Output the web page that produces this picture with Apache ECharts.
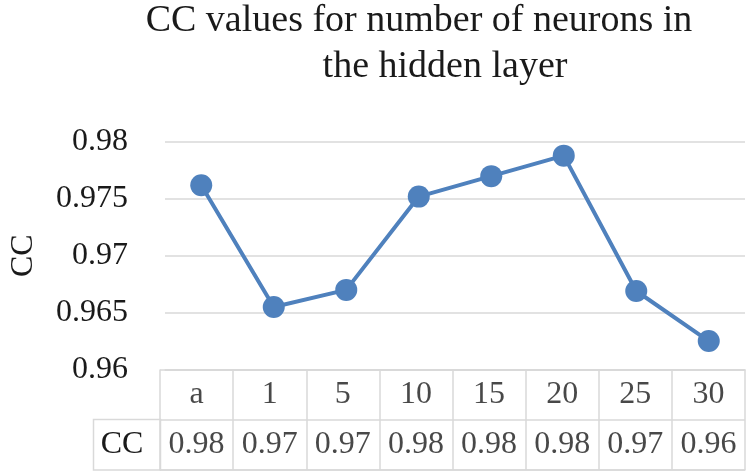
<!DOCTYPE html>
<html>
<head>
<meta charset="utf-8">
<script src="https://cdn.jsdelivr.net/npm/echarts@6/dist/echarts.min.js"></script>
<style>
  html, body { margin: 0; padding: 0; background: #fff; }
  #chart { width: 746px; height: 472px; }
</style>
</head>
<body>
<div id="chart"></div>
<script>
const titleLines = ['CC values for number of neurons in', 'the hidden layer']
const categories = ['a', '1', '5', '10', '15', '20', '25', '30']
const ccValues = [0.9762, 0.9655, 0.9670, 0.9752, 0.9770, 0.9788, 0.9669, 0.9625]
const seriesName = 'CC'
const yMin = 0.96
const yMax = 0.98
const yStep = 0.005

const font = '"Liberation Serif", "Times New Roman", serif'
const ink = '#1a1a1a'
const gridColor = '#d9d9d9'
const blue = '#4f81bd'

const chart = echarts.init(document.getElementById('chart'), null, { renderer: 'canvas' })

// table cell text: header row at y=1.5, value row at y=0.5
const headerCells = categories.map(c => ({ value: [c, 1.5], text: c }))
const valueCells = categories.map((c, i) => ({ value: [c, 0.5], text: ccValues[i].toFixed(2) }))

chart.setOption({
  animation: false,
  textStyle: { fontFamily: font, color: ink },
  graphic: [
    { type: 'group', children: [
      { type: 'text', x: 419, y: 21, style: { text: titleLines[0], font: '38px ' + font, fill: ink, align: 'center', verticalAlign: 'middle' } },
      { type: 'text', x: 445, y: 67, style: { text: titleLines[1], font: '38px ' + font, fill: ink, align: 'center', verticalAlign: 'middle' } },
      { type: 'rect', shape: { x: 93.5, y: 419.5, width: 67, height: 50.5 }, style: { fill: 'none', stroke: gridColor, lineWidth: 1.5 } },
      { type: 'text', x: 122, y: 445, style: { text: seriesName, font: '32px ' + font, fill: ink, align: 'center', verticalAlign: 'middle' } }
    ] }
  ],
  grid: [
    { left: 160, right: 1, top: 142, height: 227.5 },
    { left: 160, right: 1, top: 369.5, height: 100.5 }
  ],
  xAxis: [
    {
      gridIndex: 0, type: 'category', data: categories, boundaryGap: true,
      axisLine: { show: true, lineStyle: { color: gridColor, width: 1.5 } },
      axisTick: { show: false }, axisLabel: { show: false }, splitLine: { show: false }
    },
    {
      gridIndex: 1, type: 'category', data: categories, boundaryGap: true,
      axisLine: { show: true, lineStyle: { color: gridColor, width: 1.5 } },
      axisTick: { show: false }, axisLabel: { show: false },
      splitLine: { show: true, lineStyle: { color: gridColor, width: 1.5 } }
    }
  ],
  yAxis: [
    {
      gridIndex: 0, type: 'value', min: yMin, max: yMax, interval: yStep,
      name: seriesName, nameLocation: 'middle', nameGap: 125, nameRotate: 90,
      nameTextStyle: { fontSize: 32, fontFamily: font, color: ink },
      axisLine: { show: false }, axisTick: { show: false },
      axisLabel: { fontSize: 32, fontFamily: font, color: ink, margin: 37, formatter: v => String(+v.toFixed(3)) },
      splitLine: { show: true, lineStyle: { color: gridColor, width: 1.5 } }
    },
    {
      gridIndex: 1, type: 'value', min: 0, max: 2, interval: 1,
      axisLine: { show: false }, axisTick: { show: false }, axisLabel: { show: false },
      splitLine: { show: true, lineStyle: { color: gridColor, width: 1.5 } }
    }
  ],
  series: [
    {
      name: seriesName, type: 'line', xAxisIndex: 0, yAxisIndex: 0,
      data: ccValues,
      symbol: 'circle', symbolSize: 22,
      lineStyle: { color: blue, width: 4 },
      itemStyle: { color: blue }
    },
    {
      type: 'scatter', xAxisIndex: 1, yAxisIndex: 1, symbolSize: 0,
      data: headerCells.concat(valueCells),
      label: {
        show: true, position: 'inside', fontSize: 32, fontFamily: font, color: ink,
        formatter: p => p.data.text
      }
    }
  ]
})
</script>
</body>
</html>
